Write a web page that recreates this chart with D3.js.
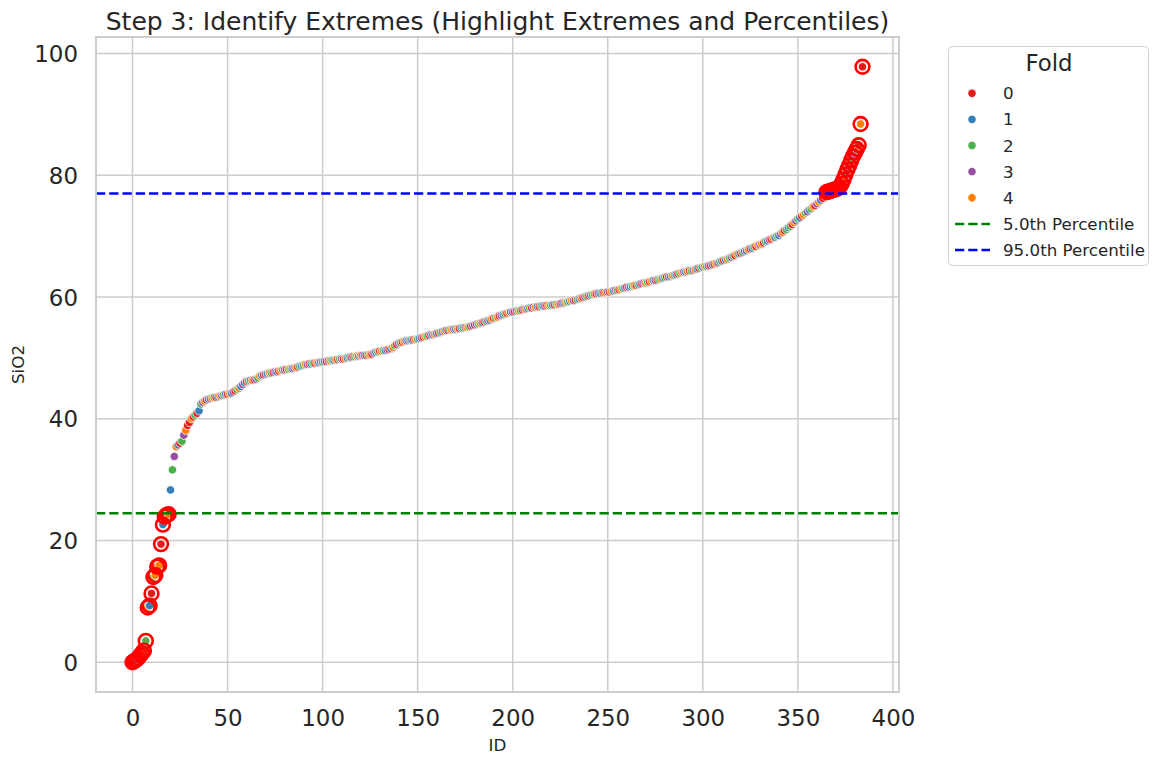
<!DOCTYPE html>
<html><head><meta charset="utf-8">
<script src="https://cdn.jsdelivr.net/npm/d3@7"></script>
<style>body{margin:0;background:#fff;} text{font-family:"DejaVu Sans",sans-serif;fill:#262626;}</style>
</head><body><svg id="c" width="1159" height="766"></svg>
<script>
// SiO2 value per ID (sorted)
const sio2 = [
0.0,0.2,0.4,0.7,1.1,1.5,1.9,3.5,9.0,9.3,11.3,14.0,14.3,15.7,15.9,19.4,22.6,23.9,24.2,24.3,
28.3,31.6,33.8,35.4,35.7,36.0,36.3,37.3,38.1,38.9,39.4,40.0,40.3,40.6,40.9,41.3,42.4,42.7,42.9,43.1,43.2,
43.3,43.4,43.5,43.5,43.6,43.7,43.8,43.9,44.0,44.0,
44.1,44.2,44.4,44.6,44.8,45.0,45.3,45.6,45.9,46.1,
46.2,46.3,46.3,46.4,46.5,46.7,47.0,47.1,47.2,47.3,
47.4,47.5,47.5,47.6,47.7,47.7,47.8,47.9,48.0,48.0,
48.1,48.1,48.2,48.2,48.3,48.4,48.5,48.6,48.7,48.8,
48.9,48.9,49.0,49.0,49.1,49.1,49.2,49.2,49.3,49.3,
49.4,49.4,49.5,49.5,49.6,49.6,49.7,49.7,49.8,49.8,
49.8,49.9,50.0,50.1,50.1,50.2,50.2,50.3,50.3,50.4,
50.4,50.4,50.4,50.5,50.5,50.6,50.8,50.9,51.0,51.1,
51.1,51.2,51.2,51.3,51.4,51.5,51.7,52.0,52.2,52.4,
52.5,52.6,52.7,52.8,52.8,52.9,52.9,53.0,53.0,53.1,
53.2,53.3,53.4,53.5,53.6,53.7,53.8,53.8,53.9,54.0,
54.1,54.2,54.3,54.4,54.5,54.5,54.6,54.6,54.7,54.7,
54.8,54.8,54.9,54.9,55.0,55.0,55.1,55.2,55.3,55.4,
55.5,55.6,55.7,55.8,55.9,56.0,56.1,56.2,56.4,56.5,
56.6,56.7,56.9,57.0,57.1,57.2,57.3,57.4,57.5,57.5,
57.6,57.7,57.7,57.8,57.9,58.0,58.0,58.1,58.2,58.2,
58.3,58.3,58.4,58.4,58.5,58.5,58.5,58.6,58.6,58.6,
58.7,58.7,58.8,58.8,58.9,59.0,59.0,59.1,59.2,59.3,
59.4,59.4,59.5,59.6,59.7,59.8,59.9,60.0,60.1,60.2,
60.3,60.4,60.5,60.5,60.6,60.6,60.7,60.7,60.7,60.8,
60.8,60.9,61.0,61.1,61.1,61.2,61.3,61.4,61.5,61.6,
61.6,61.7,61.8,61.9,61.9,62.0,62.1,62.2,62.3,62.3,
62.4,62.5,62.6,62.7,62.7,62.8,62.9,63.0,63.1,63.2,
63.3,63.3,63.4,63.5,63.6,63.7,63.8,63.9,64.0,64.1,
64.1,64.2,64.3,64.3,64.4,64.5,64.6,64.7,64.8,64.9,
65.0,65.0,65.1,65.2,65.3,65.4,65.5,65.6,65.8,65.9,
66.0,66.1,66.2,66.4,66.5,66.7,66.8,67.0,67.1,67.2,
67.3,67.5,67.6,67.8,67.9,68.0,68.2,68.3,68.5,68.6,
68.7,68.9,69.1,69.2,69.4,69.5,69.7,69.8,70.0,70.1,
70.4,70.6,70.9,71.1,71.4,71.6,71.9,72.2,72.5,72.8,
73.0,73.3,73.5,73.8,74.0,74.3,74.5,74.8,75.0,75.3,
75.6,75.9,76.2,76.6,
77.2,77.3,77.4,77.5,77.6,77.7,77.8,78.0,78.6,79.3,80.1,80.9,81.6,82.4,83.1,83.7,84.3,84.9,88.4,97.8
];
// Fold per ID
const fold = [
0,0,1,0,3,0,4,2,4,1,0,2,4,0,4,0,1,4,0,4,
1,2,3,4,1,0,2,3,4,0,0,4,0,2,0,1,2,3,4,0,1,
3,4,2,0,1,4,3,2,1,0,
4,1,3,0,2,4,1,3,1,0,
2,1,4,0,3,2,4,1,0,3,
1,4,2,0,3,1,0,4,2,3,
0,2,4,1,3,4,0,2,1,2,
4,3,0,1,2,0,4,1,3,2,
1,0,3,4,2,1,4,0,2,3,
0,4,1,2,3,0,2,4,1,4,
3,1,0,2,4,0,3,1,2,0,
4,2,1,3,0,1,4,2,0,3,
2,0,4,1,3,2,1,0,4,2,
1,3,0,4,2,0,1,3,4,1,
0,2,3,4,1,0,2,4,3,1,
4,0,1,2,3,4,2,0,1,0,
3,2,4,1,0,2,3,1,4,0,
2,4,0,3,1,2,0,4,1,3,
0,1,4,2,0,3,4,1,2,0,
3,4,1,0,2,1,3,0,4,2,
1,0,2,4,3,0,1,4,2,1,
4,3,0,2,1,4,0,3,2,0,
1,2,4,0,3,1,2,0,4,3,
0,4,1,3,2,0,4,2,1,0,
3,1,2,4,0,2,1,0,3,4,
2,0,4,1,3,0,2,4,1,2,
0,3,1,4,2,1,0,2,4,3,
1,4,0,2,3,4,1,0,2,1,
4,2,3,0,1,0,4,3,2,1,
0,1,4,2,3,2,0,4,1,0,
2,3,1,4,0,1,2,0,4,3,
4,0,2,1,3,0,4,1,2,1,
3,4,0,2,1,2,0,4,3,2,
1,0,4,2,3,1,2,4,0,3,
4,1,0,3,2,4,1,3,0,2,
0,3,2,4,1,3,0,2,3,1,4,0,
4,0
];
const foldLabels = ["0","1","2","3","4"];
const foldColors = ["#e41a1c","#377eb8","#4daf4a","#984ea3","#ff7f00"];
const percentileLabels = ["5.0th Percentile","95.0th Percentile"];
const percentileValues = [24.45, 77.0];
const percentileColors = ["#008000","#0000ff"];
const xTicks = [0,50,100,150,200,250,300,350,400];
const yTicks = [0,20,40,60,80,100];

const data = sio2.map((v,i)=>({id:i, v:v, fold:fold[i]}));
const svg = d3.select("#c");
const L=96, R=899, T=37, B=692;
const n = data.length;
const xMin = 0, xMax = n-1, yMax = d3.max(sio2), yMin = 0;
const x = d3.scaleLinear().domain([xMin-0.05*(xMax-xMin), xMax+0.05*(xMax-xMin)]).range([L,R]);
const y = d3.scaleLinear().domain([yMin-0.05*(yMax-yMin), yMax+0.05*(yMax-yMin)]).range([B,T]);

// grid
const g = svg.append("g");
g.selectAll(".gx").data(xTicks).join("line")
  .attr("x1",d=>x(d)).attr("x2",d=>x(d)).attr("y1",T).attr("y2",B)
  .attr("stroke","#cccccc").attr("stroke-width",1.5);
g.selectAll(".gy").data(yTicks).join("line")
  .attr("y1",d=>y(d)).attr("y2",d=>y(d)).attr("x1",L).attr("x2",R)
  .attr("stroke","#cccccc").attr("stroke-width",1.5);

// axes labels via d3 axes
const xAxis = d3.axisBottom(x).tickValues(xTicks).tickSize(0).tickPadding(0).tickFormat(d3.format("d"));
const gx = svg.append("g").attr("transform",`translate(0,${B})`).call(xAxis);
gx.select(".domain").remove();
gx.selectAll("text").attr("font-size","22.9px").attr("dy",null).attr("y",34)
  .style("font-family","DejaVu Sans").attr("fill","#262626");
const yAxis = d3.axisLeft(y).tickValues(yTicks).tickSize(0).tickPadding(0).tickFormat(d3.format("d"));
const gy = svg.append("g").attr("transform",`translate(${L},0)`).call(yAxis);
gy.select(".domain").remove();
gy.selectAll("text").attr("font-size","22.9px").attr("x",-18).attr("dy","0.36em")
  .style("font-family","DejaVu Sans").attr("fill","#262626");

// points
const pts = svg.append("g");
pts.selectAll("circle").data(data).join("circle")
  .attr("cx",d=>x(d.id)).attr("cy",d=>y(d.v)).attr("r",4.2)
  .attr("fill",d=>foldColors[d.fold]).attr("stroke","#ffffff").attr("stroke-width",0.8);

// highlight extremes
const ext = data.filter(d=>d.v<percentileValues[0] || d.v>percentileValues[1]);
svg.append("g").selectAll("circle").data(ext).join("circle")
  .attr("cx",d=>x(d.id)).attr("cy",d=>y(d.v)).attr("r",6.9)
  .attr("fill","none").attr("stroke","#ff0000").attr("stroke-width",2.6);

// percentile lines
svg.append("g").selectAll("line").data(percentileValues).join("line")
  .attr("x1",L).attr("x2",R).attr("y1",d=>y(d)).attr("y2",d=>y(d))
  .attr("stroke",(d,i)=>percentileColors[i]).attr("stroke-width",2.5)
  .attr("stroke-dasharray","9.25,4");

// spines
svg.append("rect").attr("x",L).attr("y",T).attr("width",R-L).attr("height",B-T)
  .attr("fill","none").attr("stroke","#cccccc").attr("stroke-width",1.9);

// title & labels
svg.append("text").attr("x",(L+R)/2).attr("y",30).attr("text-anchor","middle")
  .attr("font-size","25px").text("Step 3: Identify Extremes (Highlight Extremes and Percentiles)");
svg.append("text").attr("x",(L+R)/2).attr("y",751).attr("text-anchor","middle")
  .attr("font-size","16.7px").text("ID");
svg.append("text").attr("transform",`translate(24,${(T+B)/2}) rotate(-90)`).attr("text-anchor","middle")
  .attr("font-size","16.7px").text("SiO2");

// legend
const lg = svg.append("g");
lg.append("rect").attr("x",948.5).attr("y",46.5).attr("width",200).attr("height",219).attr("rx",4)
  .attr("fill","#ffffff").attr("fill-opacity",0.8).attr("stroke","#d0d0d0").attr("stroke-width",1);
lg.append("text").attr("x",1049).attr("y",71).attr("text-anchor","middle").attr("font-size","22.9px").text("Fold");
const rowY = d3.scaleLinear().domain([0,6]).range([93.3,250]);
foldLabels.forEach((lab,i)=>{
  lg.append("circle").attr("cx",972).attr("cy",rowY(i)).attr("r",4.2).attr("fill",foldColors[i])
    .attr("stroke","#fff").attr("stroke-width",0.8);
  lg.append("text").attr("x",1003).attr("y",rowY(i)+6).attr("font-size","16.7px").text(lab);
});
percentileLabels.forEach((lab,i)=>{
  const yy = rowY(5+i);
  lg.append("line").attr("x1",955).attr("x2",990).attr("y1",yy).attr("y2",yy)
    .attr("stroke",percentileColors[i]).attr("stroke-width",2.5).attr("stroke-dasharray","9.25,4");
  lg.append("text").attr("x",1003).attr("y",yy+6).attr("font-size","16.7px").text(lab);
});
</script></body></html>
